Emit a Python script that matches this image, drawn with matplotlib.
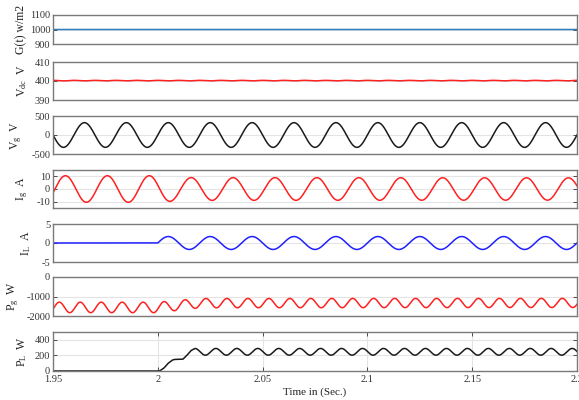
import numpy as np
import matplotlib
matplotlib.use("Agg")
import matplotlib.pyplot as plt

plt.rcParams["font.family"] = ["Liberation Serif", "DejaVu Serif"]
plt.rcParams["mathtext.fontset"] = "custom"
plt.rcParams["mathtext.rm"] = "Liberation Serif"
plt.rcParams["mathtext.it"] = "Liberation Serif:italic"
plt.rcParams["axes.unicode_minus"] = False

# ---- values ----
grid_freq = 50.0          # Hz (13 peaks of V_g over 0.25 s)
irradiance = 1000.0       # W/m2
vdc_level = 400.2         # V
vdc_ripple = 0.15         # V
vg_peak = 325.0           # V

# grid current envelope (A): time points / peak values
ig_env_t = [1.95, 2.0, 2.012, 2.2]
ig_env = [10.5, 10.5, 9.0, 8.8]
ig_phase = -0.29          # rad, value -3 A at 1.95 s rising

# load current starts at 2.0 s
il_start = 2.0
il_peak = 1.7             # A

# grid power: mean and ripple envelopes (W)
pg_env_t = [1.95, 2.0, 2.02, 2.2]
pg_mean = [-1560, -1560, -1340, -1330]
pg_amp = [270, 270, 240, 235]
pg_first_peak = 1.953     # s

# load power: start-up transient then 100 Hz ripple (W)
pl_trans_t = [2.0, 2.001, 2.003, 2.005, 2.007, 2.008, 2.010, 2.012, 2.014, 2.016, 2.0177]
pl_trans = [0, 2, 40, 100, 140, 148, 150, 152, 205, 265, 289]
pl_mean = 246
pl_amp = 43
pl_first_peak = 2.0177

t = np.linspace(1.95, 2.2, 5001)
w = 2 * np.pi * grid_freq

G = np.full_like(t, irradiance)
Vdc = vdc_level + vdc_ripple * np.cos(2 * w * t)
Vg = vg_peak * np.sin(w * t)
Ig = np.interp(t, ig_env_t, ig_env) * np.sin(w * (t - 1.95) + ig_phase)
IL = np.where(t >= il_start, il_peak * np.sin(w * (t - il_start)), 0.0)
Pg = np.interp(t, pg_env_t, pg_mean) + np.interp(t, pg_env_t, pg_amp) * np.cos(2 * w * (t - pg_first_peak))

t_pre = t[t < il_start]
t_rip = t[t > pl_first_peak]
t_PL = np.concatenate([t_pre, pl_trans_t, t_rip])
PL = np.concatenate([np.zeros_like(t_pre), pl_trans,
                     pl_mean + pl_amp * np.cos(2 * w * (t_rip - pl_first_peak))])

panels = [
    (t, G, "#2e7ebf", "G(t) w/m2", (900, 1100), [900, 1000, 1100]),
    (t, Vdc, "#ff2020", r"V$_{\mathrm{dc}}$  V", (390, 410), [390, 400, 410]),
    (t, Vg, "#1a1a1a", r"V$_{\mathrm{g}}$  V", (-500, 500), [-500, 0, 500]),
    (t, Ig, "#ff2020", r"I$_{\mathrm{g}}$  A", (-15, 15), [-10, 0, 10]),
    (t, IL, "#2020ff", r"I$_{\mathrm{L}}$  A", (-5, 5), [-5, 0, 5]),
    (t, Pg, "#ff2020", r"P$_{\mathrm{g}}$  W", (-2000, 0), [-2000, -1000, 0]),
    (t_PL, PL, "#1a1a1a", r"P$_{\mathrm{L}}$  W", (0, 500), [0, 200, 400]),
]

# panel extents in pixels (top, bottom) and y-label centre x
extents = [(15, 44), (62, 100), (116, 154), (170, 208), (224, 262), (277, 316), (332, 371)]
label_x = [21, 22, 16, 22, 26, 13, 22]

W, H = 579, 400
fig = plt.figure(figsize=(W / 100, H / 100), dpi=100)
left, right = 53, 577

for i, ((x, y, c, lab, ylim, yt), (top, bot), lx) in enumerate(zip(panels, extents, label_x)):
    ax = fig.add_axes([left / W, 1 - bot / H, (right - left) / W, (bot - top) / H])
    ax.plot(x, y, color=c, lw=1.1)
    ax.set_xlim(1.95, 2.2)
    ax.set_ylim(*ylim)
    ax.set_yticks(yt)
    ax.yaxis.grid(True, color="#e4e4e4", lw=0.8)
    ax.set_axisbelow(True)
    for s in ax.spines.values():
        s.set_color("#7a7a7a")
        s.set_linewidth(1.0)
    ax.tick_params(axis="y", direction="in", length=3, width=0.6, colors="#333333",
                   labelsize=7.5, left=True, right=True, pad=2)
    if i == len(panels) - 1:
        ax.set_xticks([1.95, 2.0, 2.05, 2.1, 2.15, 2.2])
        ax.set_xticklabels(["1.95", "2", "2.05", "2.1", "2.15", "2.2"])
        ax.xaxis.grid(True, color="#e4e4e4", lw=0.8)
        ax.tick_params(axis="x", direction="in", length=3, width=0.6, colors="#333333",
                       labelsize=7.5, top=True, bottom=True, pad=3)
        ax.set_xlabel("Time in (Sec.)", fontsize=8, color="#222222", labelpad=2)
    else:
        ax.set_xticks([])
    fig.text(lx / W, 1 - (top + bot) / 2 / H, lab, rotation=90, ha="center", va="center",
             fontsize=8.5, color="#222222")

fig.savefig("out.png", dpi=100)
